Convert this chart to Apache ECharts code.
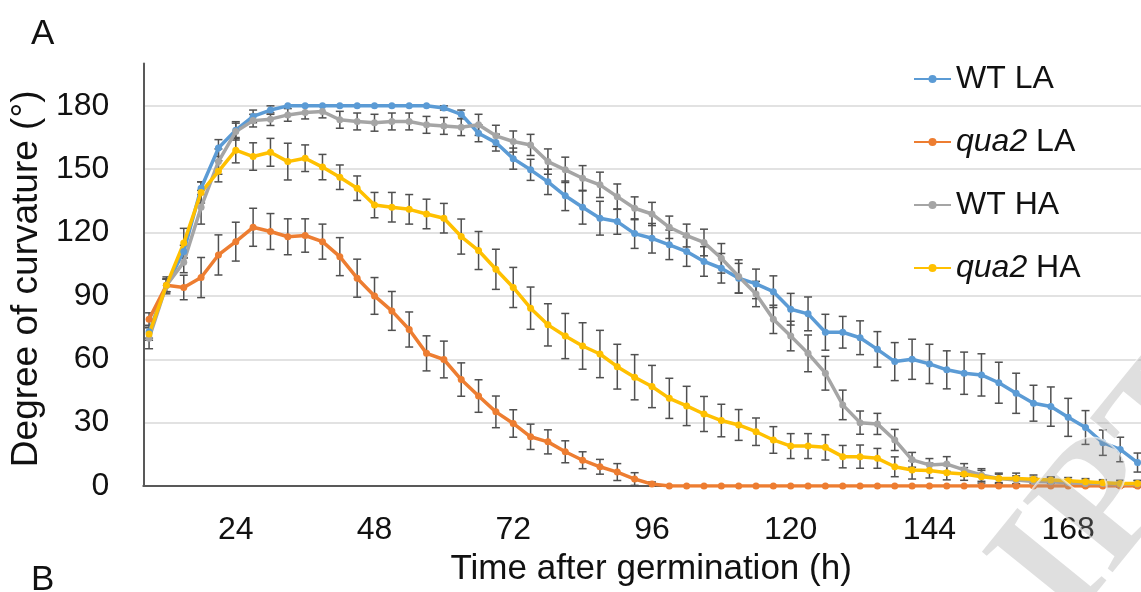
<!DOCTYPE html>
<html>
<head>
<meta charset="utf-8">
<script src="https://cdn.jsdelivr.net/npm/echarts@6/dist/echarts.min.js"></script>
<style>
  html, body { margin: 0; padding: 0; background: #fff; }
  #chart { width: 1141px; height: 592px; }
</style>
</head>
<body>
<div id="chart"></div>
<script>
// time after germination (h)
var hours = [9, 12, 15, 18, 21, 24, 27, 30, 33, 36, 39, 42, 45, 48, 51, 54, 57, 60, 63, 66,
  69, 72, 75, 78, 81, 84, 87, 90, 93, 96, 99, 102, 105, 108, 111, 114, 117, 120, 123, 126,
  129, 132, 135, 138, 141, 144, 147, 150, 153, 156, 159, 162, 165, 168, 171, 174, 177, 180];
var xTicks = [24, 48, 72, 96, 120, 144, 168];
var yTicks = [0, 30, 60, 90, 120, 150, 180];

var wtLA = [73, 95, 111, 141, 160, 168.5, 175, 178, 180, 180, 180, 180, 180, 180, 180, 180, 180, 179, 176, 167,
  162.6, 155, 149.7, 144, 137.4, 132, 126.8, 125.2, 119.5, 117.3, 114.2, 111, 106.3, 103.1, 98.4, 95.7, 92, 83.7, 81.5, 72.8,
  72.8, 70.2, 64.7, 58.9, 60, 57.8, 55, 53.4, 52.6, 48.9, 43.9, 39.2, 37.6, 32.5, 27.7, 20.5, 17.3, 11.1];
var wtLAErr = [3, 3, 3, 3, 4, 4, 3, 2, 0, 0, 0, 0, 0, 0, 0, 0, 0, 1, 2, 4,
  4, 5, 5, 6, 7, 8, 8, 6, 7, 7, 7, 7, 7, 7, 7, 7, 7.5, 7.5, 8, 8.5,
  7.5, 8, 8.4, 9, 9.5, 9.3, 9, 10, 10, 9.7, 9.5, 8.5, 9.3, 9, 8, 6, 5.8, 4.5];

var quaLA = [79, 95, 94, 98.7, 109.4, 115.7, 122.5, 120.5, 118, 118.6, 115.7, 108.6, 98.4, 90, 82.9, 74.1, 62.8, 59.9, 50.4, 42.6,
  35.1, 29.6, 23.3, 20.9, 16.2, 12.2, 9.1, 6.6, 3.3, 0.9, 0, 0, 0, 0, 0, 0, 0, 0, 0, 0,
  0, 0, 0, 0, 0, 0, 0, 0, 0, 0, 0, 0, 0, 0, 0, 0, 0, 0];
var quaLAErr = [3, 3, 5.8, 9.5, 9.5, 9.2, 9, 8.5, 8.5, 7.9, 8.3, 9, 9, 8.7, 9.2, 8.3, 8.3, 8.7, 7.9, 7.7,
  7.5, 6.5, 6, 5.7, 5.2, 4, 3.5, 4, 3, 1, 0, 0, 0, 0, 0, 0, 0, 0, 0, 0,
  0, 0, 0, 0, 0, 0, 0, 0, 0, 0, 0, 0, 0, 0, 0, 0, 0, 0];

var wtHA = [70, 95, 106, 132, 153.6, 167.8, 173, 173.7, 175.7, 176.8, 177.3, 173.4, 172.6, 172, 172.6, 172.6, 171, 170.5, 169.9, 171,
  165.8, 163.1, 161.5, 153.6, 149.7, 145.7, 142.6, 137, 131.5, 128.8, 122.5, 118.6, 115.3, 107.8, 99.2, 90.9, 78.9, 71, 62.8, 53.4,
  38.4, 30, 29.4, 21.8, 12.4, 10, 10.4, 7.6, 5.2, 3.6, 2.8, 2.1, 2, 1.5, 1.2, 1.2, 1, 1];
var wtHAErr = [5, 4, 5, 8, 6, 4, 3, 3, 3, 3, 3, 4, 4, 4, 4, 4, 4, 4, 4, 5,
  5, 5, 5, 6, 6, 6, 6, 6, 5.4, 5.5, 5.3, 5.4, 6.3, 7, 7.9, 6, 6.7, 7, 8.7, 8,
  7, 5.5, 5, 5, 3.5, 3, 3.5, 3, 3, 2, 2, 2, 2, 1.5, 1.5, 1.5, 1.5, 1.5];

var quaHA = [72, 95, 115, 139, 149, 159, 156, 158, 153.6, 155.2, 151, 146.2, 141, 133, 132, 131, 128.8, 126.8, 118.1, 111.5,
  102.6, 94, 84.2, 76.3, 71, 66.3, 62.5, 56.5, 51.5, 47.1, 41.5, 37.9, 34.1, 31, 28.9, 25.7, 21.8, 18.9, 18.9, 18.3,
  13.9, 13.9, 13.1, 9.1, 7.6, 7.3, 6.3, 5.7, 4.4, 3.6, 3.6, 3.2, 2.8, 2.5, 2, 1.5, 1.2, 1.2];
var quaHAErr = [3, 3, 7, 5, 5, 6, 6.5, 6.6, 8.7, 6.3, 6, 5.8, 5.8, 6, 7, 7, 7, 7, 8.3, 9,
  9.5, 9.5, 10, 10, 10.7, 11, 11.2, 10.6, 10.7, 10, 9.5, 9.3, 8.3, 7.7, 7.3, 6.5, 6.3, 5.9, 5.9, 6,
  5.3, 5.5, 4.7, 4.7, 4.3, 3.5, 3.4, 3, 3, 2.5, 2.5, 2, 1.5, 1.5, 1.5, 1.5, 1.5, 1.5];

var FONT = 'Liberation Sans, Arial, sans-serif';

function pairs(vals) {
  return hours.map(function (h, i) { return [h, vals[i]]; });
}
function errData(vals, errs) {
  return hours.map(function (h, i) { return [h, vals[i] - errs[i], vals[i] + errs[i]]; });
}
function renderErr(params, api) {
  var lo = api.coord([api.value(0), api.value(1)]);
  var hi = api.coord([api.value(0), api.value(2)]);
  if (Math.abs(lo[1] - hi[1]) < 1) return null;
  var cap = 4;
  var style = { stroke: '#505050', lineWidth: 1.5 };
  return {
    type: 'group',
    children: [
      { type: 'line', shape: { x1: lo[0], y1: lo[1], x2: hi[0], y2: hi[1] }, style: style },
      { type: 'line', shape: { x1: lo[0] - cap, y1: lo[1], x2: lo[0] + cap, y2: lo[1] }, style: style },
      { type: 'line', shape: { x1: hi[0] - cap, y1: hi[1], x2: hi[0] + cap, y2: hi[1] }, style: style }
    ]
  };
}
function lineSeries(name, vals, color) {
  return {
    name: name, type: 'line', data: pairs(vals),
    symbol: 'circle', symbolSize: 7, showSymbol: true,
    lineStyle: { color: color, width: 3.5 },
    itemStyle: { color: color },
    animation: false
  };
}
function errSeries(vals, errs) {
  return {
    type: 'custom', renderItem: renderErr, data: errData(vals, errs),
    encode: { x: 0, y: [1, 2] }, silent: true, animation: false
  };
}

var chart = echarts.init(document.getElementById('chart'));
var option = {
  backgroundColor: '#fff',
  animation: false,
  grid: { left: 143, right: 0, top: 63.6, bottom: 105 },
  title: [
    { text: 'A', left: 26, top: 12, textStyle: { fontFamily: FONT, fontSize: 35, fontWeight: 'normal', color: '#111' } },
    { text: 'B', left: 26, top: 558, textStyle: { fontFamily: FONT, fontSize: 35, fontWeight: 'normal', color: '#111' } }
  ],
  legend: {
    orient: 'vertical', left: 908, top: 58, itemGap: 31,
    itemWidth: 37, itemHeight: 10, itemTextGap: 7,
    data: ['WT LA', 'qua2 LA', 'WT HA', 'qua2 HA'],
    formatter: function (name) {
      if (name.indexOf('qua2') === 0) return '{i|qua2}' + name.slice(4);
      return name;
    },
    textStyle: {
      fontFamily: FONT, fontSize: 32, color: '#111',
      rich: { i: { fontFamily: FONT, fontSize: 32, fontStyle: 'italic', color: '#111' } }
    }
  },
  xAxis: {
    type: 'value', min: 8, max: 180.6,
    name: 'Time after germination (h)', nameLocation: 'middle', nameGap: 66,
    nameTextStyle: { fontFamily: FONT, fontSize: 35, color: '#111', padding: [0, 0, 0, 18] },
    axisLine: { show: true, lineStyle: { color: '#595959', width: 2 } },
    axisTick: { show: false },
    splitLine: { show: false },
    axisLabel: { customValues: xTicks, margin: 28, fontFamily: FONT, fontSize: 32, color: '#111' }
  },
  yAxis: {
    type: 'value', min: 0, max: 200,
    name: 'Degree of curvature (°)', nameLocation: 'middle', nameGap: 95,
    nameTextStyle: { fontFamily: FONT, fontSize: 37, color: '#111', padding: [0, 8, 0, 0] },
    axisLine: { show: true, lineStyle: { color: '#595959', width: 2 } },
    axisTick: { show: false, customValues: yTicks },
    splitLine: { show: true, lineStyle: { color: '#d9d9d9', width: 1.5 } },
    axisLabel: { customValues: yTicks, margin: 34, fontFamily: FONT, fontSize: 32, color: '#111' }
  },
  graphic: [{
    // journal watermark, partly cut off at the corner
    type: 'text', x: 1100, y: 655, rotation: 0.89, silent: true, z: 100,
    style: {
      text: 'IPT', font: 'bold 175px Liberation Serif, serif',
      verticalAlign: 'bottom', align: 'left',
      fill: 'rgba(150,150,150,0.3)', stroke: 'rgba(255,255,255,0.7)', lineWidth: 2
    }
  }],
  series: [
    errSeries(wtLA, wtLAErr), lineSeries('WT LA', wtLA, '#5B9BD5'),
    errSeries(quaLA, quaLAErr), lineSeries('qua2 LA', quaLA, '#ED7D31'),
    errSeries(wtHA, wtHAErr), lineSeries('WT HA', wtHA, '#A5A5A5'),
    errSeries(quaHA, quaHAErr), lineSeries('qua2 HA', quaHA, '#FFC000')
  ]
};
chart.setOption(option);
window.addEventListener('resize', function () { chart.resize(); });
</script>
</body>
</html>
